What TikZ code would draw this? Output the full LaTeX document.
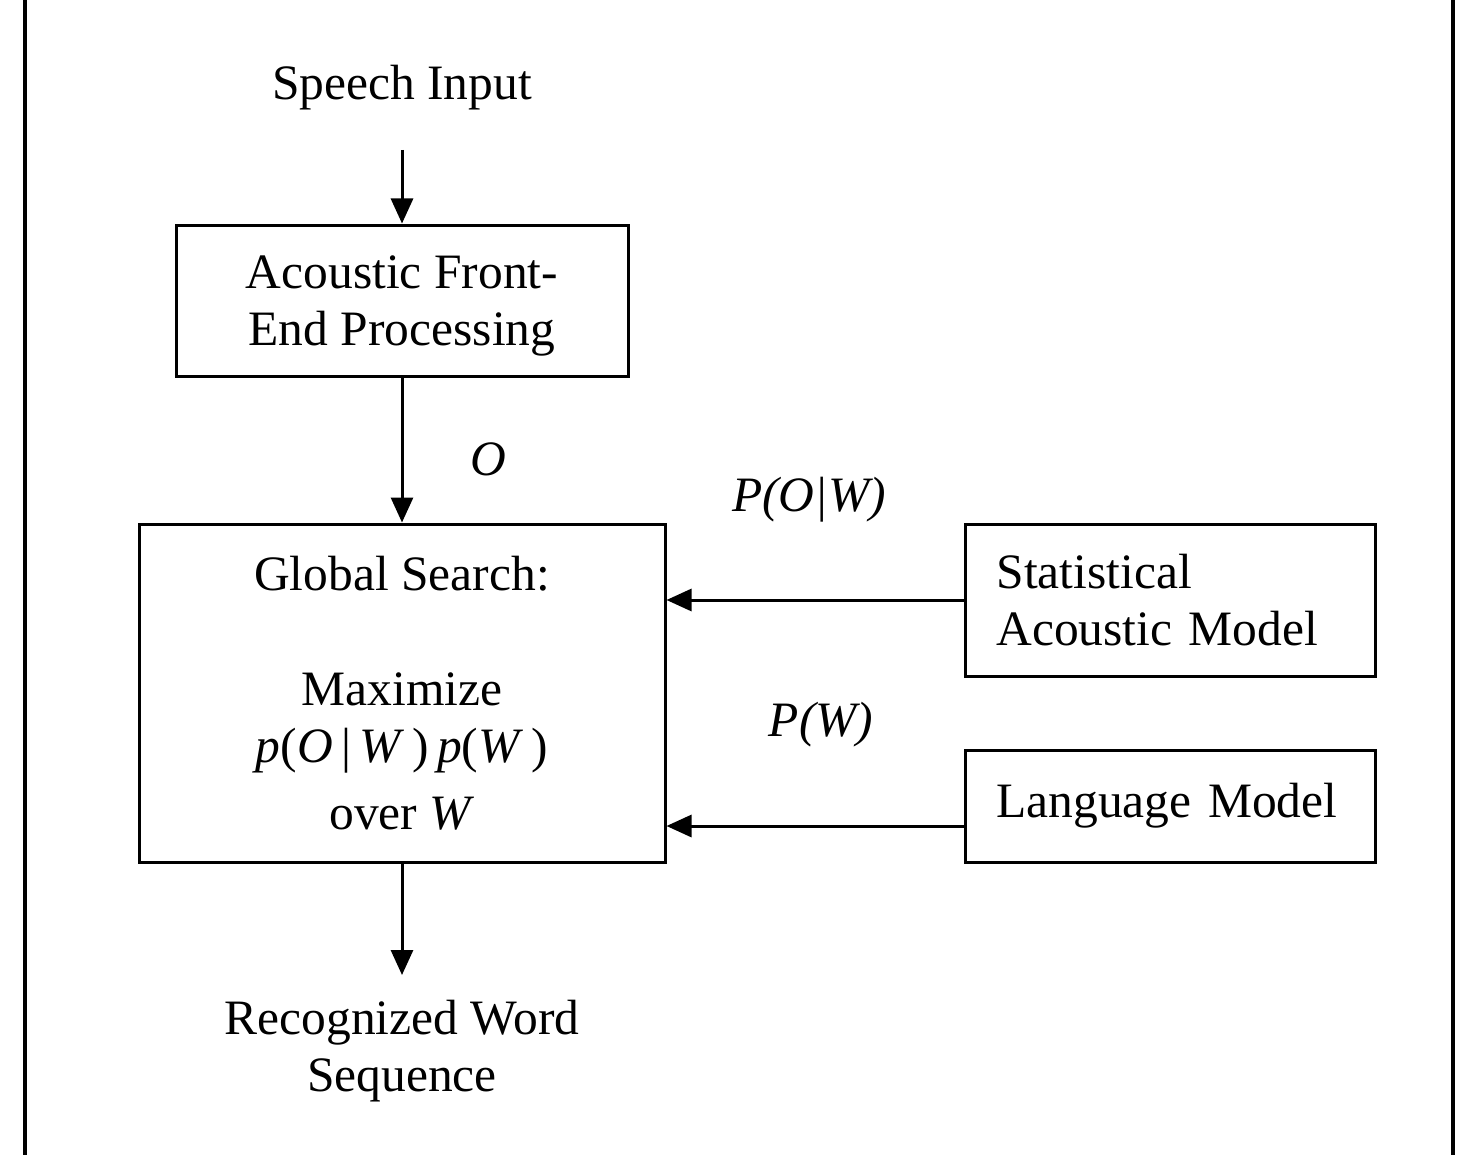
\documentclass[tikz,border=0pt]{standalone}
\usepackage{fontspec}
\setmainfont{Liberation Serif}
\usetikzlibrary{arrows.meta}
\begin{document}
\begin{tikzpicture}[x=0.5pt,y=-0.5pt,
  every node/.style={font=\fontsize{24.75pt}{28.75pt}\selectfont, inner sep=0pt},
  box/.style={draw, line width=1.5pt, align=center},
  lbox/.style={draw, line width=1.5pt, align=left, anchor=west, text width=174pt, inner xsep=15.5pt, inner ysep=0pt},
  conn/.style={line width=1.5pt, -{Triangle[length=12.5pt,width=11pt]}},
  edge/.style={line width=2pt}]
\useasboundingbox (0,0) rectangle (1470,1155);
\draw[edge] (25,0) -- (25,1155);
\draw[edge] (1453,0) -- (1453,1155);

\node[anchor=base] (speech) at (402,100) {Speech Input};
\coordinate (speechend) at (402,150);
\node[box, minimum width=226pt, minimum height=75.5pt] (front) at (402,300.5) {\rule{0pt}{22pt}Acoustic Front-\\End Processing};
\node[box, minimum width=263pt, minimum height=169pt] (search) at (402,693)
  {Global Search:\\[28.75pt]Maximize\\\textit{p}(\textit{O}\,|\,\textit{W}\,)\,\textit{p}(\textit{W}\,)\\[4.5pt]over \textit{W}};
\node[lbox, minimum height=76pt] (sam) at (964,600) {Statistical\\Acoustic Model};
\node[lbox, minimum height=56pt] (lm) at (964,806) {Language Model};
\node[align=center] (out) at (402,1051) {Recognized Word\\Sequence};
\coordinate (outend) at (402,975);

\node[anchor=base] (o) at (488,475) {\textit{O}};
\node[anchor=base] (pow) at (809,511) {\textit{P(O|W)}};
\node[anchor=base] (pw) at (821,736) {\textit{P(W)}};

\draw[conn] (speechend) -- (front.north);
\draw[conn] (front.south) -- (search.north);
\draw[conn] (search.south) -- (outend);
\draw[conn] (sam.west) -- (sam.west -| search.east);
\draw[conn] (lm.west |- 0,826) -- (search.east |- 0,826);
\end{tikzpicture}
\end{document}
